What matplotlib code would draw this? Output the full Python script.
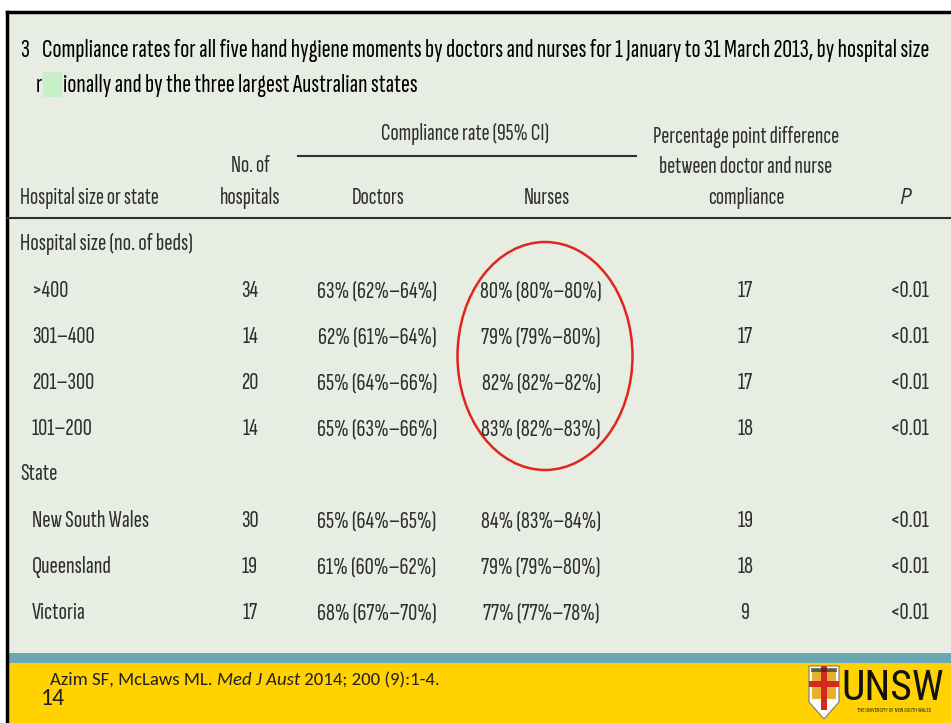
import matplotlib
matplotlib.use("Agg")
import matplotlib.pyplot as plt
from matplotlib.patches import Ellipse, Rectangle, Polygon

# table data
group_titles = ["Hospital size (no. of beds)", "State"]
size_labels = [">400", "301\u2013400", "201\u2013300", "101\u2013200"]
state_labels = ["New South Wales", "Queensland", "Victoria"]
n_hospitals = [34, 14, 20, 14, 30, 19, 17]
doctors = ["63% (62%\u201364%)", "62% (61%\u201364%)", "65% (64%\u201366%)", "65% (63%\u201366%)",
           "65% (64%\u201365%)", "61% (60%\u201362%)", "68% (67%\u201370%)"]
nurses = ["80% (80%\u201380%)", "79% (79%\u201380%)", "82% (82%\u201382%)", "83% (82%\u201383%)",
          "84% (83%\u201384%)", "79% (79%\u201380%)", "77% (77%\u201378%)"]
pp_diff = [17, 17, 17, 18, 19, 18, 9]
p_values = ["<0.01"] * 7

title1 = ("Compliance rates for all five hand hygiene moments by doctors and nurses "
          "for 1 January to 31 March 2013, by hospital size")
title2 = "ionally and by the three largest Australian states"

W, H = 951, 723
fig = plt.figure(figsize=(W / 100, H / 100), dpi=100)
ax = fig.add_axes([0, 0, 1, 1])
ax.set_xlim(0, W)
ax.set_ylim(H, 0)
ax.axis("off")
renderer = fig.canvas.get_renderer()

FONT = ["Sofia Sans Extra Condensed", "DejaVu Sans"]
FOOT = ["Carlito", "DejaVu Sans"]
ink = "#2e2e2e"


def width_px(t):
    return t.get_window_extent(renderer).width


# slide background
ax.add_patch(Rectangle((7, 12), W - 7, 641, fc="#e8ede4", ec="none"))
ax.add_patch(Rectangle((7, 653), W - 7, 10, fc="#6aa9b3", ec="none"))
ax.add_patch(Rectangle((7, 663), W - 7, 60, fc="#ffd200", ec="none"))
ax.plot([7, W], [12, 12], color="black", lw=2.5)
ax.plot([7, 7], [12, H], color="black", lw=2.5)

# title
ttl = dict(fontsize=19, family=FONT, color="black", va="baseline")
ax.text(20, 57, "3", **ttl)
t = ax.text(42, 57, title1, **ttl)
t.set_fontsize(19 * 883 / width_px(t))
ax.text(36, 92, "r", **ttl).set_fontsize(t.get_fontsize())
ax.text(63, 92, title2, **ttl).set_fontsize(t.get_fontsize())
ax.add_patch(Rectangle((43, 72), 19, 25, fc="#c8f0c8", ec="none"))

# header
hdr = dict(fontsize=17.5, family=FONT, color=ink, va="baseline")
ax.text(465, 140, "Compliance rate (95% CI)", ha="center", **hdr)
ax.plot([298, 636], [156, 156], color=ink, lw=1.5)
ax.text(746, 143, "Percentage point difference", ha="center", **hdr)
ax.text(746, 173, "between doctor and nurse", ha="center", **hdr)
ax.text(746, 204, "compliance", ha="center", **hdr)
ax.text(250, 172, "No. of", ha="center", **hdr)
ax.text(250, 204, "hospitals", ha="center", **hdr)
ax.text(20, 204, "Hospital size or state", ha="left", **hdr)
ax.text(378, 204, "Doctors", ha="center", **hdr)
ax.text(547, 204, "Nurses", ha="center", **hdr)
ax.text(905, 204, "P", ha="center", fontsize=15, family=["Open Sans", "DejaVu Sans"],
        style="italic", color=ink, va="baseline")
ax.plot([7, W], [218, 218], color=ink, lw=1.5)

# body rows
body = dict(fontsize=18, family=FONT, color=ink, va="baseline", fontweight="light")
row_labels = size_labels + state_labels
row_y = [297, 343, 389, 435, 527, 573, 619]
ax.text(20, 250, group_titles[0], ha="left", **body)
ax.text(20, 480, group_titles[1], ha="left", **body)
for i, lab in enumerate(row_labels):
    y = row_y[i]
    ax.text(32, y, lab, ha="left", **body)
    ax.text(250, y, str(n_hospitals[i]), ha="center", **body)
    ax.text(377, y, doctors[i], ha="center", **body)
    ax.text(541, y, nurses[i], ha="center", **body)
    ax.text(745, y, str(pp_diff[i]), ha="center", **body)
    ax.text(910, y, p_values[i], ha="center", **body)

# red circle around nurse values
ax.add_patch(Ellipse((545, 356), 175, 228, fc="none", ec="#e0261c", lw=1.8))

# footer citation
x = 50
for part, st in [("Azim SF, McLaws ML. ", "normal"), ("Med J Aust", "italic"),
                 (" 2014; 200 (9):1-4.", "normal")]:
    t = ax.text(x, 685, part, fontsize=13.5, family=FOOT, style=st, color="#222222",
                va="baseline")
    x += width_px(t)
ax.text(41, 705, "14", fontsize=17, family=FOOT, color="#222222", va="baseline")

# UNSW logo
shield = Polygon([(809, 666), (839, 666), (839, 702), (824, 719), (809, 702)],
                 closed=True, fc="white", ec="#777777", lw=0.8)
ax.add_patch(shield)
ax.add_patch(Rectangle((812, 669), 24, 30, fc="#e8b030", ec="none"))
ax.add_patch(Rectangle((821, 666), 6, 44, fc="#d42a20", ec="none"))
ax.add_patch(Rectangle((809, 681), 30, 6, fc="#d42a20", ec="none"))
ax.add_patch(Rectangle((811, 668), 26, 4, fc="#222222", ec="none", alpha=0.6))
ax.text(893, 700, "UNSW", fontsize=30, family=["Roboto Condensed", "DejaVu Sans"],
        color="#111111", ha="center", va="baseline")
ax.text(894, 711, "THE UNIVERSITY OF NEW SOUTH WALES", fontsize=3.3,
        family=["Roboto Condensed", "DejaVu Sans"], color="#222222", ha="center", va="center")

fig.savefig("out.png", dpi=100)
